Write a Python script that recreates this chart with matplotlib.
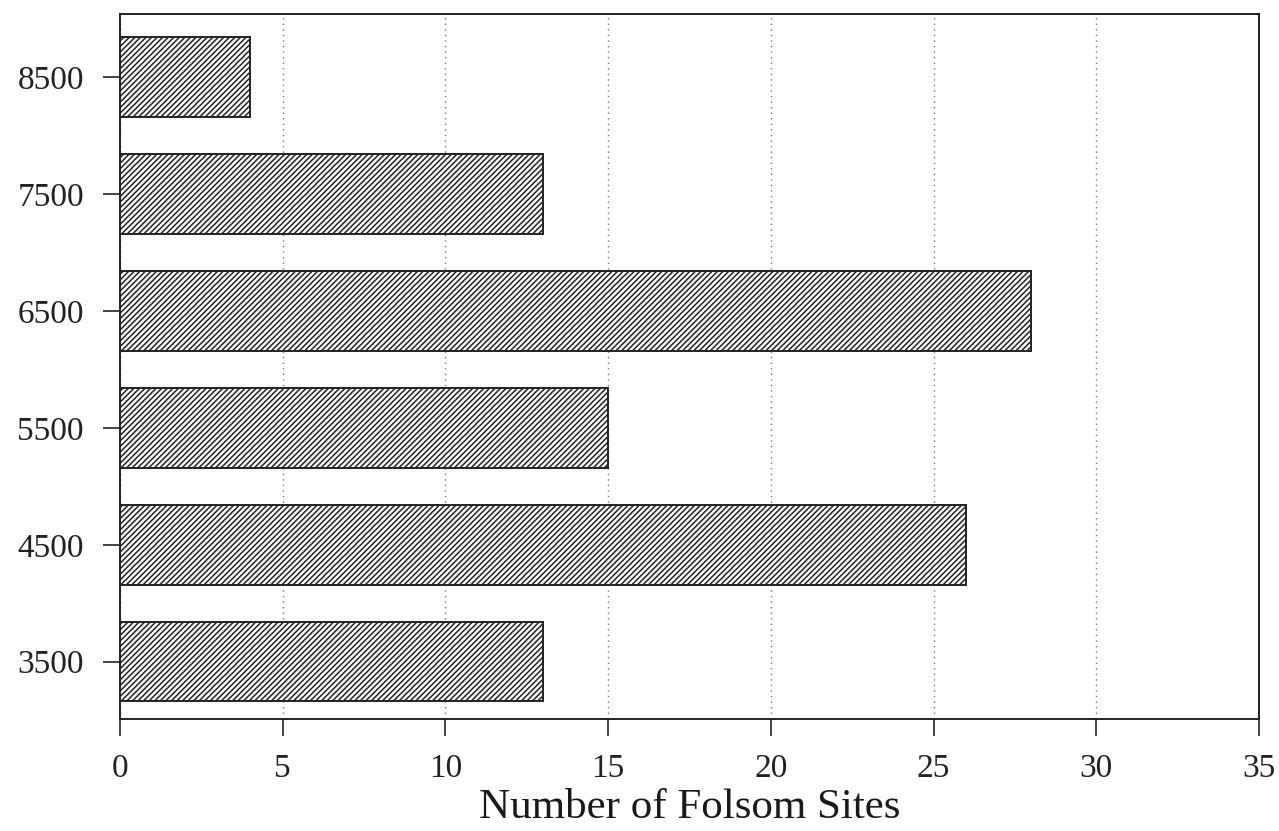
import matplotlib
matplotlib.use("Agg")
import matplotlib.pyplot as plt

categories = ["3500", "4500", "5500", "6500", "7500", "8500"]
values = [13, 26, 15, 28, 13, 4]
xticks = [0, 5, 10, 15, 20, 25, 30, 35]

plt.rcParams['font.family'] = ['Liberation Serif', 'DejaVu Serif']
plt.rcParams['hatch.linewidth'] = 1.1
plt.rcParams['hatch.color'] = '#333333'

fig = plt.figure(figsize=(12.79, 8.31), dpi=100)
ax = fig.add_axes([120/1279, 1 - 719/831, 1139/1279, 705/831])

pos = list(range(len(categories)))
ax.barh(pos, values, height=0.68, color='white', edgecolor='#222222',
        hatch='//////', linewidth=1.4, zorder=3)

ax.set_xlim(0, 35)
ax.set_ylim(-0.49, 5.54)
ax.set_xticks(xticks)
ax.set_xticklabels([str(t) for t in xticks])
ax.set_yticks(pos)
ax.set_yticklabels(categories)
ax.tick_params(axis='both', labelsize=24, colors='#222222', length=12, width=1.2,
               direction='out')
ax.tick_params(axis='x', pad=13)
ax.tick_params(axis='y', pad=14)
for s in ax.spines.values():
    s.set_linewidth(1.4)
    s.set_color('#222222')
ax.xaxis.grid(True, linestyle=(0, (1, 3)), color='#777777', linewidth=1.0, zorder=0)
ax.set_axisbelow(True)
ax.set_xlabel("Number of Folsom Sites", fontsize=31, color='#1a1a1a', labelpad=3)

fig.savefig("out.png", dpi=100)
